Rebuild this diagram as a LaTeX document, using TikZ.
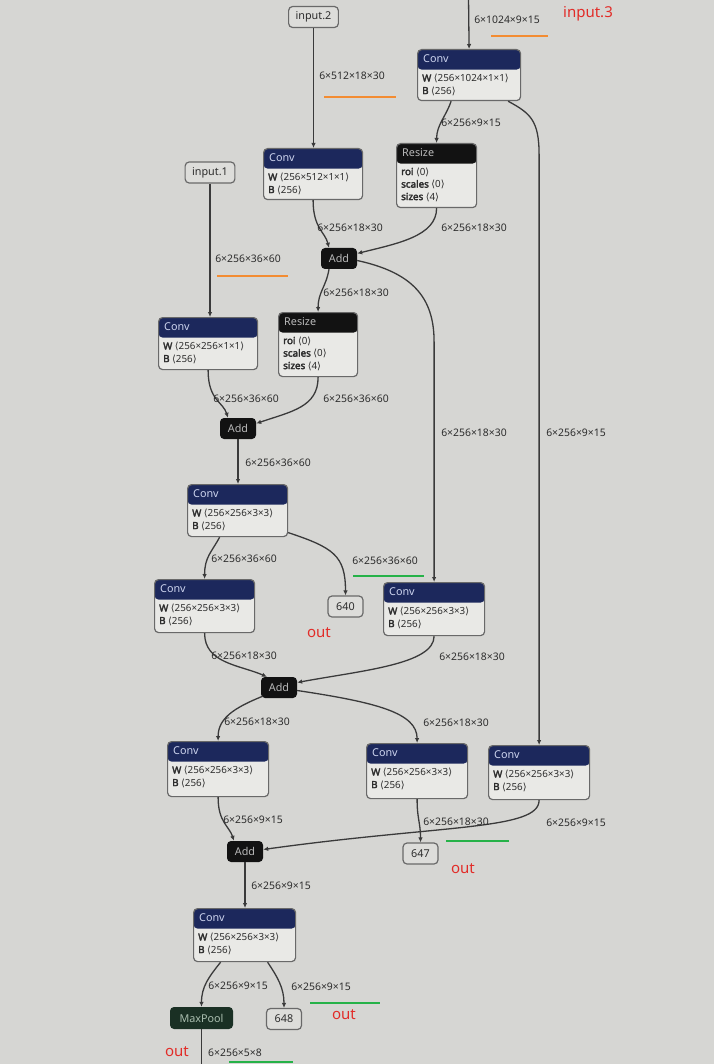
\documentclass[tikz,border=0pt]{standalone}
\usepackage{fontspec}
\setmainfont{Noto Sans}[BoldFont={Noto Sans},BoldFeatures={FakeBold=3}]
\newfontfamily\brk{DejaVu Sans}
\usetikzlibrary{arrows.meta}

\definecolor{bg}{RGB}{214,214,211}
\definecolor{boxfill}{RGB}{233,233,230}
\definecolor{boxline}{RGB}{105,105,105}
\definecolor{navy}{RGB}{28,40,92}
\definecolor{hdrtxt}{RGB}{205,212,238}
\definecolor{opblack}{RGB}{18,18,18}
\definecolor{optxt}{RGB}{185,185,185}
\definecolor{pooldark}{RGB}{26,48,36}
\definecolor{pooltxt}{RGB}{170,190,175}
\definecolor{edgecol}{RGB}{58,58,58}
\definecolor{txt}{RGB}{45,45,45}
\definecolor{anno}{RGB}{226,44,40}
\definecolor{orangemark}{RGB}{243,140,50}
\definecolor{greenmark}{RGB}{38,178,72}

% angle-bracketed tensor shape
\newcommand\ang[1]{{\brk ⟨}#1{\brk ⟩}}

\tikzset{
  opbox/.style={draw=boxline, line width=1.2pt, fill=boxfill, rounded corners=4pt, inner sep=0pt},
  hdr/.style={text=hdrtxt, font=\fontsize{10.8}{12}\selectfont, inner sep=0pt},
  attr/.style={text=txt, font=\fontsize{9.8}{11}\selectfont, inner sep=0pt},
  inp/.style={draw=boxline, line width=1.2pt, fill=boxfill!95!black, rounded corners=4pt,
              minimum height=21pt, minimum width=35pt, inner xsep=7pt, inner ysep=0pt,
              text=txt, font=\fontsize{10.8}{12}\selectfont},
  addop/.style={fill=opblack, rounded corners=4pt, minimum width=36pt, minimum height=21pt,
              inner sep=0pt, text=optxt, font=\fontsize{10.8}{12}\selectfont},
  poolop/.style={fill=pooldark, rounded corners=4pt, minimum width=63pt, minimum height=22pt,
              inner sep=0pt, text=pooltxt, font=\fontsize{10.8}{12}\selectfont},
  edge/.style={draw=edgecol, line width=1.3pt, -{Latex[length=5pt,width=4.5pt]}},
  plainedge/.style={draw=edgecol, line width=1.3pt},
  lbl/.style={text=txt, font=\fontsize{10.4}{12}\selectfont, inner sep=0pt},
  note/.style={text=anno, font=\fontsize{15}{17}\selectfont, inner sep=0pt},
  omark/.style={draw=orangemark, line width=2.6pt},
  gmark/.style={draw=greenmark, line width=2.6pt},
}

% Conv operator: name, top-left corner, width, height, weight shape
\newcommand\convop[5]{%
  \node[opbox, anchor=north west, minimum width=#3, minimum height=#4,
        path picture={\fill[navy] (path picture bounding box.north west) rectangle
          ([yshift=-20pt]path picture bounding box.north east);}] (#1) at (#2) {};
  \node[hdr, anchor=west] (#1-h) at ([xshift=6pt,yshift=-10pt]#1.north west) {Conv};
  \node[attr, anchor=west] (#1-w) at ([xshift=5pt,yshift=-29.5pt]#1.north west) {\textbf{W} \ang{#5}};
  \node[attr, anchor=west] (#1-b) at ([xshift=5pt,yshift=-42pt]#1.north west) {\textbf{B} \ang{256}};
}

% Resize operator: name, top-left corner, width, height
\newcommand\resizeop[4]{%
  \node[opbox, anchor=north west, minimum width=#3, minimum height=#4,
        path picture={\fill[opblack] (path picture bounding box.north west) rectangle
          ([yshift=-20pt]path picture bounding box.north east);}] (#1) at (#2) {};
  \node[hdr, text=optxt, anchor=west] (#1-h) at ([xshift=6pt,yshift=-10pt]#1.north west) {Resize};
  \node[attr, anchor=west] (#1-r) at ([xshift=5pt,yshift=-29pt]#1.north west) {\textbf{roi} \ang{0}};
  \node[attr, anchor=west] (#1-s) at ([xshift=5pt,yshift=-41.5pt]#1.north west) {\textbf{scales} \ang{0}};
  \node[attr, anchor=west] (#1-z) at ([xshift=5pt,yshift=-54pt]#1.north west) {\textbf{sizes} \ang{4}};
}

\begin{document}
\begin{tikzpicture}[x=1pt,y=-1pt]
\fill[bg] (0,0) rectangle (714,1064);
\useasboundingbox (0,0) rectangle (714,1064);

% ---------- operators ----------
\node[inp] (in2) at (313.5,17) {input.2};
\convop{c1}{417,49}{103pt}{51pt}{256×1024×1×1}
\convop{c2}{263,148}{99pt}{51pt}{256×512×1×1}
\resizeop{r1}{396,143}{80pt}{64pt}
\node[inp] (in1) at (210,172.5) {input.1};
\node[addop] (a1) at (339,258.5) {Add};
\convop{c3}{158,317}{99pt}{52pt}{256×256×1×1}
\resizeop{r2}{278,312}{79pt}{64pt}
\node[addop] (a2) at (238,428.5) {Add};
\convop{c4}{187,484}{100pt}{52pt}{256×256×3×3}
\convop{c5}{154,579}{100pt}{53pt}{256×256×3×3}
\node[inp] (o640) at (345.5,606.5) {640};
\convop{c7}{383,582}{101pt}{53pt}{256×256×3×3}
\node[addop] (a3) at (279,687.5) {Add};
\convop{c6}{167,741}{101pt}{55pt}{256×256×3×3}
\convop{c8}{366,743}{101pt}{55pt}{256×256×3×3}
\convop{c9}{488,745}{101pt}{54pt}{256×256×3×3}
\node[addop] (a4) at (245,851.5) {Add};
\node[inp] (o647) at (420.5,853.5) {647};
\convop{c10}{193,908}{102pt}{53pt}{256×256×3×3}
\node[poolop] (mp) at (201.5,1018) {MaxPool};
\node[inp] (o648) at (284,1019) {648};

% ---------- connectors ----------
\coordinate (top3) at (468.5,-3);
\coordinate (mpout) at (201.5,1070);
\draw[edge] (top3) -- (c1.north);
\draw[edge] (in2.south) -- (in2.south |- c2.north);
\draw[edge] ([xshift=-18pt]c1.south) .. controls +(-5,15) and +(0,-18) .. (r1.north);
\draw[edge] ([xshift=39pt]c1.south) .. controls +(22,12) and +(0,-35) .. ([yshift=590pt]c9.north) -- (c9.north);
\draw[edge] (c2.south) .. controls +(0,28) and +(-4,-16) .. ([xshift=-10pt]a1.north);
\draw[edge] (r1.south) .. controls +(0,28) and +(40,-10) .. ([yshift=5pt]a1.east);
\draw[edge] (in1.south) -- (in1.south |- c3.north);
\draw[edge] ([xshift=-10pt]a1.south) .. controls +(-3,18) and +(0,-20) .. (r2.north);
\draw[edge] ([yshift=-2pt]a1.east) .. controls +(55,12) and +(0,-45) .. ([yshift=240pt]c7.north) -- (c7.north);
\draw[edge] (c3.south) .. controls +(0,30) and +(-5,-16) .. ([xshift=-10pt]a2.north);
\draw[edge] (r2.south) .. controls +(0,30) and +(35,-12) .. ([yshift=5pt]a2.east);
\draw[edge] (a2.south) -- (a2.south |- c4.north);
\draw[edge] ([xshift=-18pt]c4.south) .. controls +(-8,15) and +(0,-22) .. (c5.north);
\draw[edge] ([yshift=-22pt]c4.east) .. controls +(45,15) and +(0,-40) .. (o640.north);
\draw[edge] (c5.south) .. controls +(0,30) and +(-28,-12) .. ([xshift=-12pt]a3.north);
\draw[edge] (c7.south) .. controls +(0,28) and +(65,-12) .. ([yshift=5pt]a3.east);
\draw[edge] ([xshift=2pt,yshift=2pt]a3.south west) .. controls +(-30,12) and +(0,-22) .. (c6.north);
\draw[edge] ([yshift=-3pt]a3.east) .. controls +(80,12) and +(0,-30) .. (c8.north);
\draw[edge] (c6.south) .. controls +(0,25) and +(-5,-15) .. ([xshift=-11pt]a4.north);
\draw[edge] (c8.south) .. controls +(0,20) and +(0,-20) .. (o647.north);
\draw[edge] (c9.south) .. controls +(0,30) and +(180,-25) .. ([yshift=2pt]a4.east);
\draw[edge] (a4.south) -- (a4.south |- c10.north);
\draw[edge] ([xshift=-24pt]c10.south) .. controls +(-12,15) and +(0,-20) .. (mp.north);
\draw[edge] ([xshift=23pt]c10.south) .. controls +(10,15) and +(0,-20) .. (o648.north);
\draw[plainedge] (mp.south) -- (mpout);

% ---------- tensor shapes on connectors ----------
\node[lbl] (t1)  at (507,20)   {6×1024×9×15};
\node[lbl] (t2)  at (352,76)   {6×512×18×30};
\node[lbl] (t3)  at (471,123)  {6×256×9×15};
\node[lbl] (t4)  at (350,228)  {6×256×18×30};
\node[lbl] (t5)  at (474,228)  {6×256×18×30};
\node[lbl] (t6)  at (248,259)  {6×256×36×60};
\node[lbl] (t7)  at (356,293)  {6×256×18×30};
\node[lbl] (t8)  at (246,399)  {6×256×36×60};
\node[lbl] (t9)  at (356,399)  {6×256×36×60};
\node[lbl] (t10) at (474,433)  {6×256×18×30};
\node[lbl] (t11) at (576,433)  {6×256×9×15};
\node[lbl] (t12) at (278,463)  {6×256×36×60};
\node[lbl] (t13) at (244,559)  {6×256×36×60};
\node[lbl] (t14) at (385,561)  {6×256×36×60};
\node[lbl] (t15) at (244,656)  {6×256×18×30};
\node[lbl] (t16) at (472,657)  {6×256×18×30};
\node[lbl] (t17) at (257,722)  {6×256×18×30};
\node[lbl] (t18) at (456,723)  {6×256×18×30};
\node[lbl] (t19) at (253,820)  {6×256×9×15};
\node[lbl] (t20) at (456,822)  {6×256×18×30};
\node[lbl] (t21) at (576,823)  {6×256×9×15};
\node[lbl] (t22) at (281,886)  {6×256×9×15};
\node[lbl] (t23) at (238,986)  {6×256×9×15};
\node[lbl] (t24) at (321,987)  {6×256×9×15};
\node[lbl] (t25) at (235,1053) {6×256×5×8};

% ---------- hand-drawn marks ----------
\draw[omark] (491,36) -- (548,36);
\draw[omark] (324,97) -- (396,97);
\draw[omark] (217,276) -- (288,276);
\draw[gmark] (353,576) -- (424,576);
\draw[gmark] (446,841) -- (509,841);
\draw[gmark] (310,1003) -- (380,1003);
\draw[gmark] (229,1062) -- (293,1062);
\node[note] (n1) at (588,14)   {input.3};
\node[note] (n2) at (319,633)  {out};
\node[note] (n3) at (463,869)  {out};
\node[note] (n4) at (344,1015) {out};
\node[note] (n5) at (177,1052) {out};
\end{tikzpicture}
\end{document}
